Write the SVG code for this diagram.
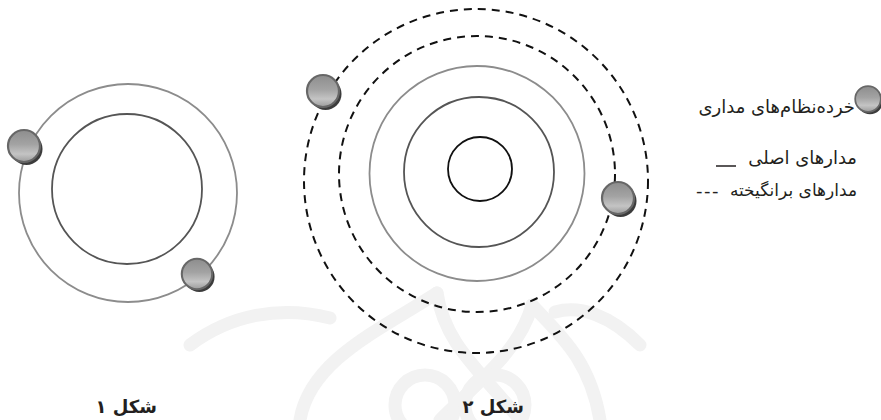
<svg xmlns="http://www.w3.org/2000/svg" xmlns:xlink="http://www.w3.org/1999/xlink" width="881" height="420" viewBox="0 0 881 420">
<style>
.orb-light{fill:none;stroke:#8c8c8c;stroke-width:1.8}
.orb-dark{fill:none;stroke:#555;stroke-width:1.8}
.orb-black{fill:none;stroke:#111;stroke-width:1.8}
.orb-dash{fill:none;stroke:#111;stroke-width:2;stroke-dasharray:8 6}
.wm{fill:none;stroke:#f2f2f2;stroke-width:13;stroke-linecap:round}
.leg{font-family:"DejaVu Sans",sans-serif;font-size:18px;fill:#231f20}
.cap{font-family:"DejaVu Sans",sans-serif;font-size:18px;font-weight:bold;fill:#231f20}
</style>
<defs>
<linearGradient id="ballGrad" x1="0" y1="0" x2="0" y2="1">
<stop offset="0" stop-color="#8d8d8d"/>
<stop offset="0.45" stop-color="#a3a3a3"/>
<stop offset="0.75" stop-color="#c4c4c4"/>
<stop offset="1" stop-color="#9c9c9c"/>
</linearGradient>
<g id="ball">
<circle cx="2.5" cy="3" r="16" fill="#3c3c3c"/>
<circle cx="0" cy="0" r="16" fill="url(#ballGrad)" stroke="#676767" stroke-width="2.2"/>
</g>
</defs>

<g id="watermark">
<path class="wm" d="M 300 420 C 310 360 380 330 437 293"/>
<path class="wm" d="M 437 293 C 445 345 480 370 520 420"/>
<path class="wm" d="M 600 420 C 590 360 560 335 532 305"/>
<path class="wm" d="M 532 305 C 520 350 480 380 440 420"/>
<path class="wm" d="M 190 345 C 230 315 280 305 330 318"/>
<path class="wm" d="M 640 345 C 610 315 580 305 555 312"/>
<circle class="wm" cx="425" cy="405" r="30"/>
<circle class="wm" cx="495" cy="405" r="30"/>
</g>

<g id="figure1">
<circle class="orb-light" cx="128" cy="193" r="109"/>
<circle class="orb-dark" cx="127" cy="189" r="75"/>
</g>
<g id="fig1-electron1"><use xlink:href="#ball" href="#ball" transform="translate(24,146)"/></g>
<g id="fig1-electron2"><use xlink:href="#ball" href="#ball" transform="translate(197,274) scale(0.95)"/></g>

<g id="figure2">
<circle class="orb-dash" cx="476" cy="181" r="172"/>
<circle class="orb-dash" cx="477" cy="174" r="138"/>
<circle class="orb-light" cx="477" cy="173.5" r="107.5"/>
<circle class="orb-dark" cx="479" cy="172" r="75"/>
<circle class="orb-black" cx="480" cy="169" r="32"/>
</g>
<g id="fig2-electron1"><use xlink:href="#ball" href="#ball" transform="translate(323,91)"/></g>
<g id="fig2-electron2"><use xlink:href="#ball" href="#ball" transform="translate(618,198)"/></g>

<g id="legend">
<g id="legend-electron">
<use xlink:href="#ball" href="#ball" transform="translate(868,99) scale(0.8)"/>
<text class="leg" x="855" y="113" text-anchor="end">خرده‌نظام‌های مداری</text>
</g>
<g id="legend-main">
<line x1="716" y1="166" x2="736" y2="166" stroke="#231f20" stroke-width="1.5"/>
<text class="leg" x="857" y="164" text-anchor="end">مدارهای اصلی</text>
</g>
<g id="legend-excited">
<text class="leg" x="696" y="197" style="font-size:18px;letter-spacing:1.5px">---</text>
<text class="leg" x="857" y="196" text-anchor="end" style="font-size:17px">مدارهای برانگیخته</text>
</g>
</g>

<g id="caption1">
<text class="cap" x="157" y="413" text-anchor="end">شکل ۱</text>
</g>
<g id="caption2">
<text class="cap" x="524" y="413" text-anchor="end">شکل ۲</text>
</g>
</svg>
